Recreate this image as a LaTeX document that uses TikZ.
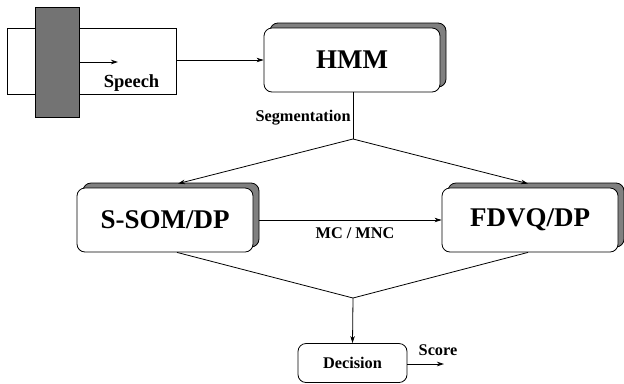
\documentclass[tikz,border=0pt]{standalone}
\usepackage{fontspec}
\setmainfont{Liberation Serif}
\usetikzlibrary{arrows.meta,shadows}
\definecolor{bargray}{gray}{0.45}
\definecolor{shadowgray}{gray}{0.5}
\begin{document}
\begin{tikzpicture}[x=1bp,y=-1bp,
>={Stealth[length=7bp,width=4.5bp,inset=2bp]},
every path/.style={line width=0.8bp},
unit/.style={%
draw,
fill=white,
rounded corners=8bp,
minimum width=176bp,
minimum height=64bp,
inner sep=0pt,
font=\fontsize{27bp}{30bp}\selectfont\bfseries,
copy shadow={shadow xshift=6bp,shadow yshift=5bp,fill=shadowgray}
},
lbl/.style={%
inner sep=0pt,
font=\fontsize{16.3bp}{18bp}\selectfont\bfseries
},
]
\useasboundingbox (0,0) rectangle (624,383);
%%Input
\node[draw,minimum width=169bp,minimum height=66bp,inner sep=0pt](src)at(91.5,61){};
\node[draw,fill=bargray,minimum width=44bp,minimum height=110bp,inner sep=0pt](bar)at(57,62){};
\coordinate(sig)at(118,62);
\draw[->](bar.east|-sig)--(sig);
\node[lbl,font=\fontsize{18.5bp}{20bp}\selectfont\bfseries,anchor=base]at(131.5,87){Speech};
%%Units
\node[unit](hmm)at(352,60){HMM};
\node[unit](ssom)at(165,220){S-SOM/DP};
\node[unit](fdvq)at(530,220){FDVQ/DP};
\node[draw,rounded corners=8bp,minimum width=109bp,minimum height=39bp,inner sep=0pt,
font=\fontsize{16.3bp}{18bp}\selectfont\bfseries](dec)at(352.5,363){Decision};
%%Links
\coordinate(split)at(353,139);
\coordinate(merge)at(353,298);
\coordinate(out)at(444,364);
\draw[->](src.east|-hmm.west)--(hmm.west);
\draw(hmm.south-|split)--(split);
\draw[->](split)--([shift={(13,-4)}]ssom.north);
\draw[->](split)--([shift={(-2,-4)}]fdvq.north);
\draw[->]([xshift=6bp]ssom.east)--(fdvq.west);
\draw([xshift=12bp]ssom.south)--(merge);
\draw([xshift=-2bp]fdvq.south)--(merge);
\draw[->](merge)--(dec.north);
\draw[->](dec.east|-out)--(out);
%%Labels
\node[lbl,anchor=base east]at(351,121){Segmentation};
\node[lbl,anchor=base]at(355,238){MC / MNC};
\node[lbl,anchor=base]at(438,355){Score};
\end{tikzpicture}
\end{document}
